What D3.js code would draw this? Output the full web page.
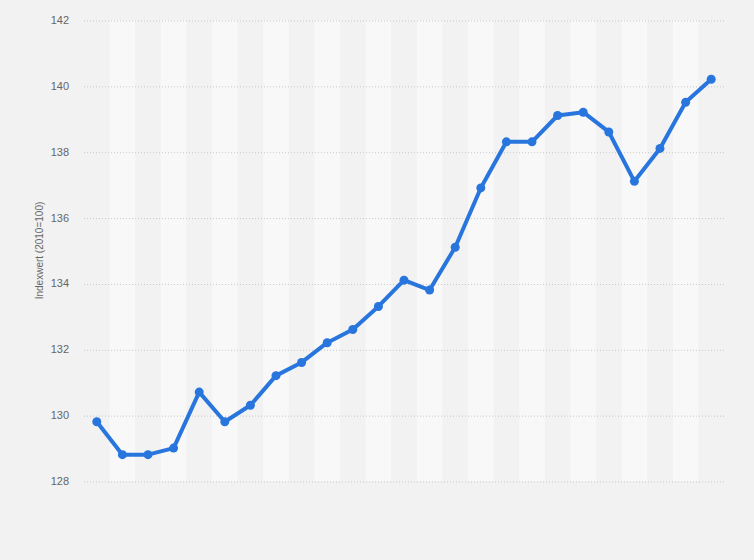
<!DOCTYPE html>
<html>
<head>
<meta charset="utf-8">
<script src="https://cdn.jsdelivr.net/npm/d3@7"></script>
<style>
  body { margin: 0; background: #f2f2f2; }
  svg { display: block; }
  .axis text { font-family: "Liberation Sans", Arial, sans-serif; font-size: 11px; fill: #666; }
  .grid-line { stroke: #c8c8c8; stroke-dasharray: 1,2; }
</style>
</head>
<body>
<div id="chart"></div>
<script>
'use strict'
// Werte
var categories = d3.range(1, 26).map(String);
var values = [129.8, 128.8, 128.8, 129.0, 130.7, 129.8, 130.3, 131.2, 131.6, 132.2,
              132.6, 133.3, 134.1, 133.8, 135.1, 136.9, 138.3, 138.3, 139.1, 139.2,
              138.6, 137.1, 138.1, 139.5, 140.2];
var yTicks = [128, 130, 132, 134, 136, 138, 140, 142];
var yLabel = "Indexwert (2010=100)";

var width = 754, height = 560;
var margins = {top: 20, left: 84, right: 30, bottom: 79};

var svg = d3.select("#chart").append("svg")
    .attr("width", width)
    .attr("height", height);

svg.append("rect")
    .attr("width", width)
    .attr("height", height)
    .attr("fill", "#f2f2f2");

var xScale = d3.scaleBand()
    .domain(categories)
    .range([margins.left, width - margins.right]);

var yScale = d3.scaleLinear()
    .domain([128, 142])
    .range([height - margins.bottom, margins.top]);

// helle Streifen
svg.append("g").selectAll("rect.band")
    .data(categories.filter(function (d, i) { return i % 2 === 1; }))
    .enter()
    .append("rect")
    .attr("class", "band")
    .attr("x", function (d) { return xScale(d); })
    .attr("y", yScale(142))
    .attr("width", xScale.bandwidth())
    .attr("height", yScale(128) - yScale(142))
    .attr("fill", "#f8f8f8");

var yAxis = d3.axisLeft(yScale)
    .tickValues(yTicks)
    .tickSize(0)
    .tickPadding(15);

var axisG = svg.append("g")
    .attr("class", "axis")
    .attr("transform", "translate(" + margins.left + ",0)")
    .call(yAxis);
axisG.select(".domain").remove();

axisG.selectAll("g.tick")
    .append("line")
    .classed("grid-line", true)
    .attr("x1", 0)
    .attr("y1", 0.5)
    .attr("x2", width - margins.right - margins.left)
    .attr("y2", 0.5);

svg.append("text")
    .attr("class", "axis")
    .attr("transform", "translate(43," + ((yScale(128) + yScale(142)) / 2) + ") rotate(-90)")
    .attr("text-anchor", "middle")
    .style("font-family", "Liberation Sans, Arial, sans-serif")
    .style("font-size", "10px")
    .style("fill", "#666")
    .text(yLabel);

var line = d3.line()
    .x(function (d, i) { return xScale(categories[i]) + xScale.bandwidth() / 2; })
    .y(function (d) { return yScale(d); });

svg.append("path")
    .datum(values)
    .attr("d", line)
    .attr("fill", "none")
    .attr("stroke", "#2876dd")
    .attr("stroke-width", 4)
    .attr("stroke-linejoin", "round");

svg.append("g").selectAll("circle")
    .data(values)
    .enter()
    .append("circle")
    .attr("cx", function (d, i) { return xScale(categories[i]) + xScale.bandwidth() / 2; })
    .attr("cy", function (d) { return yScale(d); })
    .attr("r", 4.5)
    .attr("fill", "#2876dd");
</script>
</body>
</html>
